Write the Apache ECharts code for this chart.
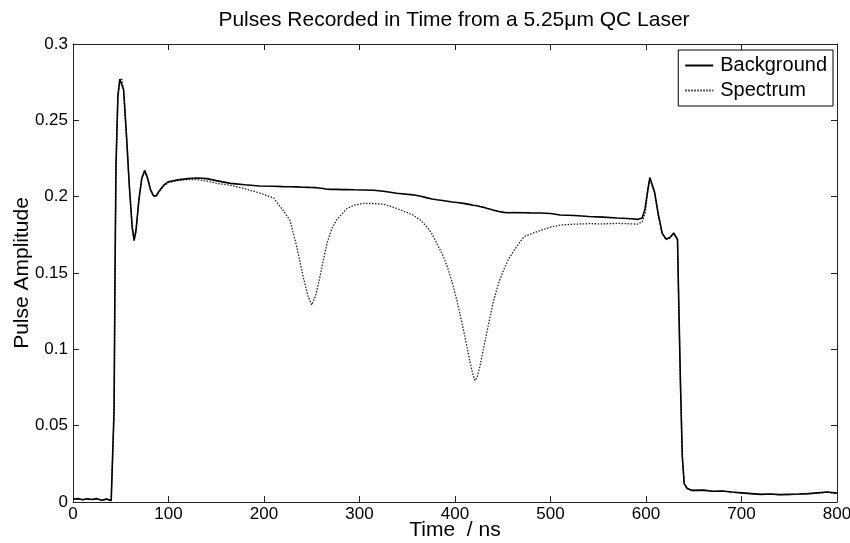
<!DOCTYPE html>
<html>
<head>
<meta charset="utf-8">
<script src="https://cdn.jsdelivr.net/npm/echarts@6/dist/echarts.min.js"></script>
<style>
  html, body { margin: 0; padding: 0; background: #fff; }
  #chart { width: 850px; height: 543px; }
</style>
</head>
<body>
<div id="chart"></div>
<script>
// time axis (ns)
var time = [
  0, 5, 10, 15, 20, 25, 30, 35, 40, 42,
  43, 44, 45, 47, 49, 51, 53, 56, 59, 62, 64, 66, 69, 72, 75, 78, 81, 84, 87, 90, 95, 100, 110, 120, 130,
  140, 150, 165, 180, 195, 210,
  220, 227, 234, 241, 246, 250, 254, 257, 262, 266, 271, 276, 282, 287, 295, 304,
  315, 325, 339, 356, 364, 371, 376, 381, 387, 392, 397, 402, 409,
  416, 419, 421, 423, 426, 430, 434, 440, 446, 451, 456, 462, 472, 479,
  490, 500, 510, 525, 540, 555, 570, 585, 591, 596, 599,
  602, 604, 606, 609, 613, 617, 621, 625, 629, 631, 633, 634, 636, 638, 640, 643, 648,
  660, 670, 680, 690, 700, 710, 720, 730, 740, 750, 760, 770, 780, 790, 800
];

var background = [
  0.0018, 0.0022, 0.0015, 0.0021, 0.0016, 0.0022, 0.0012, 0.0019, 0.0009, 0.0006,
  0.06, 0.15, 0.22, 0.266, 0.277, 0.278, 0.27, 0.24, 0.207, 0.18, 0.1715, 0.178, 0.198, 0.212, 0.2172, 0.2125, 0.205, 0.2008, 0.2005, 0.2035, 0.2075, 0.2098, 0.211, 0.2118, 0.2122,
  0.2118, 0.2105, 0.2087, 0.2078, 0.207, 0.2068,
  0.2066, 0.2065, 0.2064, 0.2062, 0.2061, 0.206, 0.2059, 0.2057, 0.2053, 0.2049, 0.2048, 0.2048, 0.2046, 0.2047, 0.2045, 0.2044,
  0.2042, 0.2035, 0.2022, 0.2012, 0.2003, 0.1992, 0.1985, 0.198, 0.1975, 0.197, 0.1965, 0.1962, 0.1956,
  0.1948, 0.1944, 0.1942, 0.194, 0.1935, 0.193, 0.1922, 0.1912, 0.1903, 0.1897, 0.1895, 0.1896, 0.1895, 0.1894,
  0.1893, 0.189, 0.188, 0.1877, 0.187, 0.1866, 0.186, 0.1855, 0.1851, 0.186, 0.192,
  0.205, 0.2125, 0.2118, 0.203, 0.188, 0.176, 0.1722, 0.1732, 0.1762, 0.1756, 0.172, 0.14, 0.08, 0.03, 0.012, 0.009, 0.0076,
  0.0078, 0.007, 0.0072, 0.0065, 0.006, 0.0055, 0.005, 0.0052, 0.0048, 0.005, 0.0052, 0.0055, 0.006, 0.0065, 0.0058
];

var spectrum = [
  0.0017, 0.0021, 0.0016, 0.002, 0.0017, 0.0021, 0.0013, 0.0018, 0.001, 0.0006,
  0.058, 0.148, 0.218, 0.265, 0.276, 0.2775, 0.2695, 0.2395, 0.2065, 0.1795, 0.171, 0.1775, 0.1975, 0.2115, 0.2168, 0.212, 0.2045, 0.2003, 0.2, 0.203, 0.207, 0.2093, 0.2105, 0.2112, 0.2112,
  0.2102, 0.2088, 0.2074, 0.2052, 0.2025, 0.1992,
  0.191, 0.1847, 0.168, 0.1476, 0.135, 0.129, 0.135, 0.143, 0.158, 0.1694, 0.179, 0.1847, 0.189, 0.1923, 0.1945, 0.1956,
  0.1955, 0.195, 0.1923, 0.188, 0.1845, 0.18, 0.1755, 0.1694, 0.162, 0.154, 0.144, 0.132, 0.1126,
  0.0908, 0.083, 0.0795, 0.0815, 0.0886, 0.101, 0.113, 0.131, 0.144, 0.152, 0.159, 0.165, 0.1737, 0.1755,
  0.178, 0.18, 0.1814, 0.182, 0.1823, 0.1822, 0.1825, 0.1822, 0.182, 0.1835, 0.189,
  0.204, 0.2118, 0.2115, 0.2025, 0.1875, 0.1755, 0.1718, 0.1728, 0.1758, 0.1752, 0.1715, 0.139, 0.079, 0.029, 0.0118, 0.0089, 0.0075,
  0.0077, 0.0069, 0.0071, 0.0064, 0.006, 0.0054, 0.005, 0.0051, 0.0048, 0.0049, 0.0051, 0.0054, 0.0059, 0.0064, 0.0057
];

var seriesNames = ['Background', 'Spectrum'];

function pairs(vals) {
  return time.map(function (t, i) { return [t, vals[i]]; });
}

var chart = echarts.init(document.getElementById('chart'));
var font = 'Liberation Sans, Arial, sans-serif';
var axisColor = '#222';

var xCommon = {
  type: 'value', min: 0, max: 800, interval: 100,
  axisLine: { show: true, onZero: false, lineStyle: { color: axisColor, width: 1 } },
  axisTick: { show: true, inside: true, length: 6, lineStyle: { color: axisColor } },
  splitLine: { show: false }
};
var yCommon = {
  type: 'value', min: 0, max: 0.3, interval: 0.05,
  axisLine: { show: true, onZero: false, lineStyle: { color: axisColor, width: 1 } },
  axisTick: { show: true, inside: true, length: 6, lineStyle: { color: axisColor } },
  splitLine: { show: false }
};

var option = {
  animation: false,
  backgroundColor: '#fff',
  textStyle: { fontFamily: font, color: '#000' },
  title: {
    text: 'Pulses Recorded in Time from a 5.25\u03bcm QC Laser',
    left: 449, top: 5, textAlign: 'center',
    textStyle: { fontFamily: font, fontSize: 21, fontWeight: 'normal', color: '#000' }
  },
  grid: { left: 73, right: 13, top: 44, bottom: 41, outerBoundsMode: 'none', containLabel: false },
  legend: {
    data: seriesNames,
    orient: 'vertical',
    right: 17, top: 50,
    backgroundColor: '#fff',
    borderColor: '#000', borderWidth: 1,
    padding: [3, 6, 3, 6],
    itemGap: 0,
    itemWidth: 28, itemHeight: 14,
    itemStyle: { opacity: 0 },
    textStyle: { fontFamily: font, fontSize: 20, lineHeight: 25, color: '#000', padding: [0, 0, 0, 2] }
  },
  xAxis: [
    Object.assign({}, xCommon, {
      position: 'bottom',
      name: 'Time  / ns', nameLocation: 'middle', nameGap: 18, nameMoveOverlap: false,
      nameTextStyle: { fontFamily: font, fontSize: 21, color: '#000', verticalAlign: 'top' },
      axisLabel: { fontFamily: font, fontSize: 17, color: '#000', margin: 4 }
    }),
    Object.assign({}, xCommon, { position: 'top', axisLabel: { show: false } })
  ],
  yAxis: [
    Object.assign({}, yCommon, {
      position: 'left',
      name: 'Pulse Amplitude', nameLocation: 'middle', nameGap: 40, nameMoveOverlap: false,
      nameTextStyle: { fontFamily: font, fontSize: 21, color: '#000' },
      axisLabel: { fontFamily: font, fontSize: 17, color: '#000', margin: 5 }
    }),
    Object.assign({}, yCommon, { position: 'right', axisLabel: { show: false } })
  ],
  series: [
    {
      name: seriesNames[1], type: 'line', data: pairs(spectrum),
      showSymbol: false, symbol: 'none', z: 2,
      itemStyle: { color: '#222' },
      lineStyle: { color: '#222', width: 1.3, type: [1.5, 1.5] }
    },
    {
      name: seriesNames[0], type: 'line', data: pairs(background),
      showSymbol: false, symbol: 'none', z: 3,
      itemStyle: { color: '#000' },
      lineStyle: { color: '#000', width: 1.6, type: 'solid' }
    }
  ]
};

chart.setOption(option);
</script>
</body>
</html>
